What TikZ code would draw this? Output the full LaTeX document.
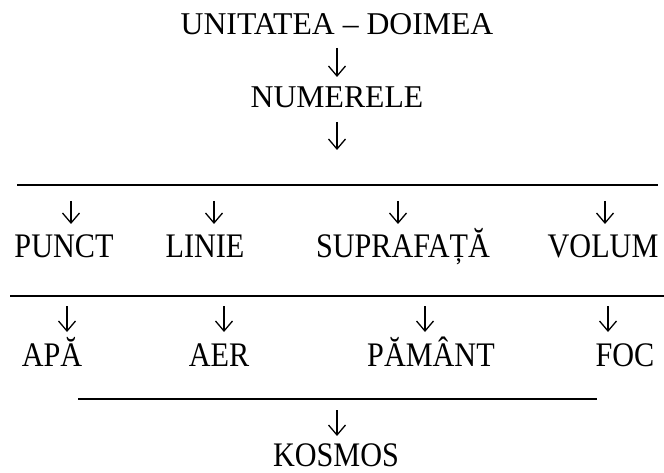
\documentclass[tikz,border=0pt]{standalone}
\usepackage{fontspec}
\usepackage{graphicx}
\setmainfont{Liberation Serif}
\usetikzlibrary{arrows.meta}
\newcommand{\headFont}{\fontsize{31.7}{38}\selectfont}
\newcommand{\termFont}{\fontsize{30.2}{36}\selectfont}
\newcommand{\tall}[1]{\scalebox{1}[1.14]{#1}}
\newcommand{\ruleWidth}{1.4pt}
\newcommand{\formsRow}{71/64/punct/PUNCT, 214/205/linie/LINIE, 398/403/supr/SUPRAFAȚĂ, 605/603/volum/VOLUM}
\newcommand{\elementsRow}{67/52/apa/APĂ, 224/219/aer/AER, 425/431/pamant/PĂMÂNT, 608/625/foc/FOC}

\tikzset{
	head/.style={font=\headFont, anchor=base, inner sep=0pt},
	term/.style={font=\termFont, anchor=base, inner sep=0pt},
	down/.style={-{Straight Barb[length=10pt,width=17pt,line width=1.3pt]}, line width=1.3pt},
	bar/.style={line width=\ruleWidth}
}

\begin{document}
\begin{tikzpicture}[x=1pt,y=-1pt]
	\useasboundingbox (0,0) rectangle (664,473);

	\node[head] (unit) at (337,35) {UNITATEA – DOIMEA};
	\node[head] (num) at (337,108) {NUMERELE};
	\node[term] (kosmos) at (336,466) {\tall{KOSMOS}};

	% horizontal bars
	\coordinate (bar1w) at (17,185);
	\coordinate (bar1e) at (658,185);
	\coordinate (bar2w) at (10,296);
	\coordinate (bar2e) at (664,296);
	\coordinate (bar3w) at (78,399);
	\coordinate (bar3e) at (597,399);
	\draw[bar] (bar1w) -- (bar1e);
	\draw[bar] (bar2w) -- (bar2e);
	\draw[bar] (bar3w) -- (bar3e);

	\draw[down, shorten <=13pt, shorten >=31pt] (unit.base) -- (num.base);
	\draw[down, shorten <=14pt, shorten >=35pt] (num.base) -- (num.base |- bar1w);

	\foreach \ax/\tx/\nm/\name in \formsRow
	{
		\node[term] (\nm) at (\tx,258) {\tall{\name}};
		\coordinate (top-\nm) at (\ax,185);
		\draw[down, shorten <=16pt, shorten >=34pt] (top-\nm) -- (top-\nm |- \nm.base);
	}
	\foreach \ax/\tx/\nm/\name in \elementsRow
	{
		\node[term] (\nm) at (\tx,366) {\tall{\name}};
		\coordinate (top-\nm) at (\ax,296);
		\draw[down, shorten <=10pt, shorten >=34pt] (top-\nm) -- (top-\nm |- \nm.base);
	}

	\coordinate (top-kosmos) at (337,399);
	\draw[down, shorten <=11pt, shorten >=30pt] (top-kosmos) -- (top-kosmos |- kosmos.base);
\end{tikzpicture}
\end{document}
